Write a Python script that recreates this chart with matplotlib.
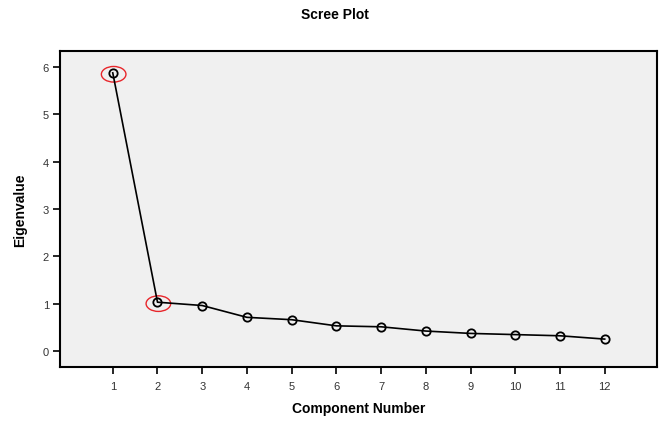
import matplotlib
matplotlib.use("Agg")
import matplotlib.pyplot as plt
from matplotlib.patches import Ellipse

plt.rcParams['font.family'] = ['Liberation Sans', 'DejaVu Sans']

components = [1, 2, 3, 4, 5, 6, 7, 8, 9, 10, 11, 12]
eigenvalues = [5.88, 1.03, 0.96, 0.71, 0.66, 0.53, 0.51, 0.42, 0.37, 0.345, 0.32, 0.25]
highlighted = [1, 2]
yticks = [0, 1, 2, 3, 4, 5, 6]

fig = plt.figure(figsize=(6.6, 4.27), dpi=100)
ax = fig.add_axes([0.0909, 0.1382, 0.9046, 0.7398])
ax.set_facecolor('#f0f0f0')

ax.plot(components, eigenvalues, color='black', lw=1.2, marker='o',
        markersize=6, markerfacecolor='none', markeredgecolor='black', mew=1.3)

for c in highlighted:
    v = eigenvalues[components.index(c)]
    ax.add_patch(Ellipse((c + 0.02, v - 0.03), 0.55, 0.33, fill=False,
                         edgecolor='#e8262b', lw=1.0))

ax.set_xlim(-0.18, 13.17)
ax.set_ylim(-0.34, 6.34)
ax.set_xticks(components)
ax.set_yticks(yticks)
ax.tick_params(axis='both', direction='out', length=5, width=1.2, labelsize=8,
               colors='black', labelcolor='#333333')
ax.tick_params(axis='x', pad=5)
ax.tick_params(axis='y', pad=3)
for s in ax.spines.values():
    s.set_linewidth(1.5)
    s.set_color('black')

ax.set_xlabel('Component Number', fontsize=10, fontweight='bold', labelpad=7)
ax.set_ylabel('Eigenvalue', fontsize=10, fontweight='bold', labelpad=11)
fig.text(0.508, 0.965, 'Scree Plot', ha='center', va='center', fontsize=10, fontweight='bold')

fig.savefig('out.png', dpi=100)
